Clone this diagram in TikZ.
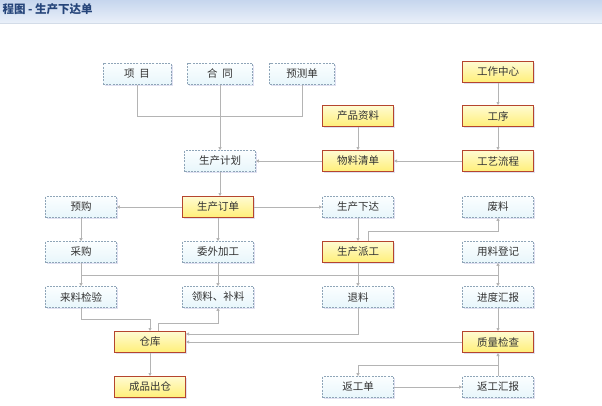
\documentclass[tikz,border=0pt]{standalone}
\usepackage{fontspec}
\newfontfamily\cjk{Noto Sans CJK SC}
\usetikzlibrary{arrows.meta,shadows}
\definecolor{ybord}{HTML}{B5452E}
\definecolor{ytop}{HTML}{FFFBD2}
\definecolor{ybot}{HTML}{FFEF78}
\definecolor{bbord}{HTML}{8FA5B8}
\definecolor{btop}{HTML}{FBFEFF}
\definecolor{bbot}{HTML}{E8F6FB}
\definecolor{lnc}{HTML}{B4B4B4}
\definecolor{titlec}{HTML}{26457A}
\definecolor{bartop}{HTML}{C6D6EE}
\definecolor{barbot}{HTML}{EAF0F9}
\definecolor{barline}{HTML}{D3DCE8}
\tikzset{
  basebox/.style={rectangle, minimum width=71pt, minimum height=21pt, inner sep=0pt,
    font=\cjk\fontsize{10.5}{12}\selectfont, text=black!80,
    drop shadow={shadow xshift=1.6pt, shadow yshift=-1.6pt, fill=black!45!blue!30, opacity=0.4}},
  ybox/.style={basebox, draw=ybord, line width=1pt, top color=ytop, bottom color=ybot},
  bbox/.style={basebox, draw=bbord, line width=0.6pt, dash pattern=on 2pt off 1.2pt, top color=btop, bottom color=bbot},
  line/.style={draw=lnc, line width=0.75pt},
  arr/.style={line, -{Triangle[length=3pt,width=3pt]}}
}
\begin{document}
\begin{tikzpicture}[x=1pt,y=-1pt]
\useasboundingbox (0,0) rectangle (602,405);
\fill[white] (0,0) rectangle (602,405);
\shade[top color=bartop, bottom color=barbot] (0,0) rectangle (602,23);
\draw[color=barline, line width=1pt] (0,23.5) -- (602,23.5);
\node[anchor=west, font=\cjk\bfseries\fontsize{11.5}{13}\selectfont, text=titlec] (title) at (-1,9) {程图 - 生产下达单};

% row 1
\node[bbox, minimum width=68pt] (xm) at (137,74) {项\ \ 目};
\node[bbox, minimum width=65pt] (ht) at (220,74) {合\ \ 同};
\node[bbox, minimum width=65pt] (ycd) at (302,74) {预测单};
\node[ybox] (gzzx) at (498,72) {工作中心};
% row 2
\node[ybox] (cpzl) at (358,116) {产品资料};
\node[ybox] (gx) at (498,116) {工序};
% row 3
\node[bbox] (jh) at (220,161) {生产计划};
\node[ybox] (wlqd) at (358,161) {物料清单};
\node[ybox] (gylc) at (498,161) {工艺流程};
% row 4
\node[bbox] (yg) at (81,207) {预购};
\node[ybox] (dd) at (218,207) {生产订单};
\node[bbox] (xd) at (358,207) {生产下达};
\node[bbox] (fl) at (498,207) {废料};
% row 5
\node[bbox] (cg) at (81,252) {采购};
\node[bbox] (ww) at (218,252) {委外加工};
\node[ybox] (pg) at (358,252) {生产派工};
\node[bbox] (ydj) at (498,252) {用料登记};
% row 6
\node[bbox] (lj) at (81,297) {来料检验};
\node[bbox] (ll) at (218,297) {领料、补料};
\node[bbox] (tl) at (358,297) {退料};
\node[bbox] (jd) at (498,297) {进度汇报};
% row 7
\node[ybox] (ck) at (150,342) {仓库};
\node[ybox] (zj) at (498,342) {质量检查};
% row 8
\node[ybox] (cpcc) at (150,387) {成品出仓};
\node[bbox] (fgd) at (358,387) {返工单};
\node[bbox] (fghb) at (498,387) {返工汇报};

% junction levels
\coordinate (j1) at (0,116);
\coordinate (j2) at (0,275);
\coordinate (j3) at (0,231);
\coordinate (j4) at (0,319);
\coordinate (j5) at (0,323);
\coordinate (j6) at (0,365);

\draw[line] (xm.south) -- (xm.south |- j1) -- (ycd.south |- j1) -- (ycd.south);
\draw[arr] (ht.south) -- (jh.north);
\draw[arr] (gzzx.south) -- (gx.north);
\draw[arr] (gx.south) -- (gylc.north);
\draw[arr] (cpzl.south) -- (wlqd.north);
\draw[arr] (gylc.west) -- (wlqd.east);
\draw[arr] (wlqd.west) -- (jh.east);
\draw[arr] (jh.south) -- (jh.south |- dd.north);
\draw[arr] (dd.west) -- (yg.east);
\draw[arr] (dd.east) -- (xd.west);
\draw[arr] (yg.south) -- (cg.north);
\draw[arr] (dd.south) -- (ww.north);
\draw[arr] (xd.south) -- (pg.north);
\draw[arr] (cg.south) -- (lj.north);
\draw[arr] (ww.south) -- (ll.north);
\draw[arr] (pg.south) -- (tl.north);
\draw[arr] (cg.south |- j2) -- (ydj.south |- j2) -- (ydj.south);
\draw[arr] (ydj.south |- j2) -- (jd.north);
\draw[arr] ([xshift=10pt]pg.north) -- ([xshift=10pt]pg.north |- j3) -| (fl.south);
\draw[arr] (jd.south) -- (zj.north);
\draw[arr] (lj.south) -- (lj.south |- j4) -| (ck.north);
\draw[arr] ([xshift=8pt]ck.north) -- ([xshift=8pt]ck.north |- j5) -| (ll.south);
\draw[arr] (tl.south) |- ([yshift=8pt]ck.east);
\draw[arr] (zj.west) -- (ck.east);
\draw[arr] (ck.south) -- (cpcc.north);
\draw[arr] (fghb.north) -- (zj.south);
\draw[arr] (zj.south |- j6) -| (fgd.north);
\draw[arr] (fgd.east) -- (fghb.west);
\end{tikzpicture}
\end{document}
